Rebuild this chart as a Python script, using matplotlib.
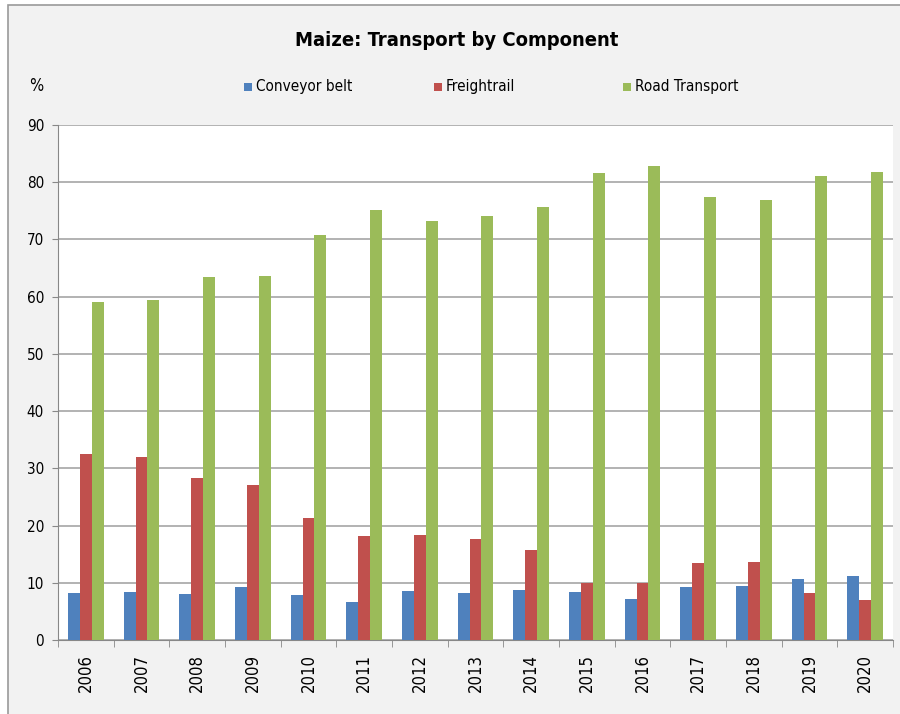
import matplotlib
matplotlib.use("Agg")
import matplotlib.pyplot as plt
import numpy as np
from matplotlib.patches import Rectangle

plt.rcParams['font.family'] = ['DejaVu Sans']
plt.rcParams['font.stretch'] = 'condensed'

years = [str(y) for y in range(2006, 2021)]
conveyor = [8.2, 8.4, 8.0, 9.3, 7.9, 6.6, 8.6, 8.2, 8.7, 8.4, 7.2, 9.3, 9.4, 10.7, 11.2]
freightrail = [32.5, 32.0, 28.3, 27.1, 21.3, 18.2, 18.4, 17.7, 15.7, 10.0, 10.0, 13.5, 13.6, 8.2, 7.0]
road = [59.1, 59.4, 63.4, 63.6, 70.8, 75.1, 73.2, 74.1, 75.7, 81.6, 82.8, 77.4, 76.9, 81.1, 81.8]
series_names = ["Conveyor belt", "Freightrail", "Road Transport"]
colors = ["#4f81bd", "#c0504d", "#9bbb59"]

W, H = 900, 714
fig = plt.figure(figsize=(W / 100, H / 100), dpi=100)
fig.patch.set_facecolor("white")
fig.patches.append(Rectangle((8 / W, -0.05), 1, 1.05 - 5 / H, transform=fig.transFigure,
                             facecolor="#f2f2f2", edgecolor="#9a9a9a", linewidth=1.2, zorder=-10))

ax = fig.add_axes([58 / W, 1 - 640 / H, (893 - 58) / W, (640 - 125) / H])
ax.set_facecolor("white")

x = np.arange(len(years))
bw = 0.215
for i, (vals, c, name) in enumerate(zip([conveyor, freightrail, road], colors, series_names)):
    ax.bar(x + (i - 1) * bw, vals, width=bw, color=c, label=name, zorder=3)

ax.set_xlim(-0.5, len(years) - 0.5)
ax.set_ylim(0, 90)
ax.set_yticks(range(0, 91, 10))
ax.tick_params(axis='y', labelsize=11, length=4, color="#888888", pad=6)
ax.yaxis.grid(True, color="#a6a6a6", linewidth=1.2, zorder=0)
ax.set_axisbelow(True)

ax.set_xticks(x)
ax.set_xticklabels(years, rotation=90, fontsize=12)
ax.tick_params(axis='x', length=0, pad=10)
ax.set_xticks(np.arange(-0.5, len(years), 1), minor=True)
ax.tick_params(axis='x', which='minor', length=5, color="#888888")

for s in ["top", "right"]:
    ax.spines[s].set_visible(False)
ax.spines["left"].set_color("#888888")
ax.spines["bottom"].set_color("#888888")

fig.text(457 / W, 1 - 40 / H, "Maize: Transport by Component", ha="center", va="center",
         fontsize=14.5, fontweight="bold")
fig.text(29 / W, 1 - 86 / H, "%", ha="left", va="center", fontsize=12)

# legend entries placed by hand
legend_x = [248, 438, 627]
for lx, c, name in zip(legend_x, colors, series_names):
    fig.patches.append(Rectangle(((lx - 4) / W, 1 - 91 / H), 8 / W, 8 / H,
                                 transform=fig.transFigure, facecolor=c, edgecolor="none"))
    fig.text((lx + 8) / W, 1 - 87 / H, name, ha="left", va="center", fontsize=11)

fig.savefig("out.png", dpi=100, facecolor=fig.get_facecolor())
